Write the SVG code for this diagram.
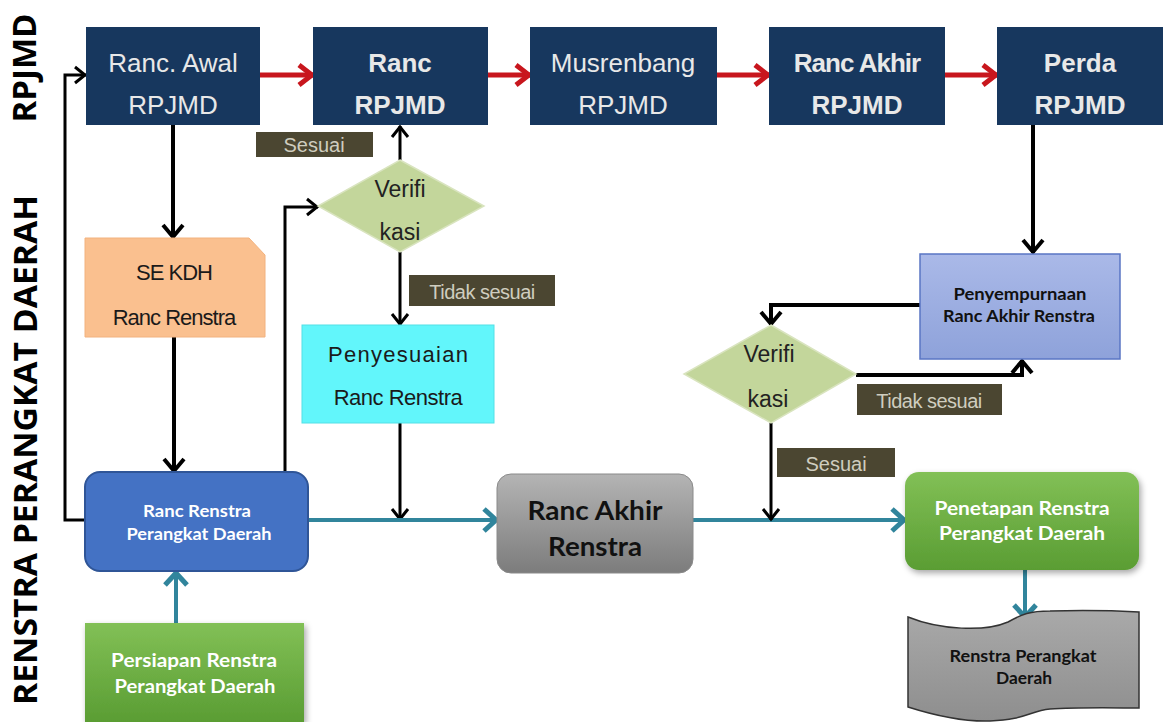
<svg xmlns="http://www.w3.org/2000/svg" width="1172" height="722" viewBox="0 0 1172 722">
<defs>
<style>
.navy{fill:#17375e;}
.tw{font-family:"Liberation Sans",Arial,sans-serif;font-size:26px;fill:#e8e8e8;text-anchor:middle;}
.twb{font-family:"Liberation Sans",Arial,sans-serif;font-size:26px;font-weight:bold;fill:#e8e8e8;text-anchor:middle;}
.lbl{fill:#4b4631;}
.lt{font-family:"Liberation Sans",Arial,sans-serif;font-size:20px;fill:#cfcdbf;text-anchor:middle;}
.dia{fill:#c3d69b;stroke:#d9e4bf;stroke-width:1.5;}
.dt{font-family:"Liberation Sans",Arial,sans-serif;font-size:23px;fill:#222;text-anchor:middle;}
.at{font-family:"Liberation Sans",Arial,sans-serif;font-size:22px;fill:#1a1a1a;text-anchor:middle;}
.cb{font-family:Lato,"Open Sans",sans-serif;font-weight:bold;text-anchor:middle;}
.side{font-family:"Open Sans",sans-serif;font-weight:bold;font-size:33px;fill:#000;text-anchor:middle;}
.red{fill:none;stroke:#c8161d;stroke-width:5;}
.blk{fill:none;stroke:#000;stroke-width:3;}
.blk4{fill:none;stroke:#000;stroke-width:4;}
.teal{fill:none;stroke:#31859c;stroke-width:4;}
</style>
<marker id="mr" markerUnits="userSpaceOnUse" viewBox="0 0 20 24" markerWidth="20" markerHeight="24" refX="17" refY="12" orient="auto"><path d="M3,2 L16,12 L3,22" fill="none" stroke="#c8161d" stroke-width="5"/></marker>
<marker id="mb" markerUnits="userSpaceOnUse" viewBox="0 0 16 20" markerWidth="16" markerHeight="20" refX="13" refY="10" orient="auto"><path d="M2,2 L12,10 L2,18" fill="none" stroke="#000" stroke-width="3"/></marker>
<marker id="mb4" markerUnits="userSpaceOnUse" viewBox="0 0 18 24" markerWidth="18" markerHeight="24" refX="15" refY="12" orient="auto"><path d="M2,2 L14,12 L2,22" fill="none" stroke="#000" stroke-width="4"/></marker>
<marker id="mt" markerUnits="userSpaceOnUse" viewBox="0 0 20 26" markerWidth="20" markerHeight="26" refX="16" refY="13" orient="auto"><path d="M3,2 L15,13 L3,24" fill="none" stroke="#31859c" stroke-width="5"/></marker>
<linearGradient id="gGray" x1="0" y1="0" x2="0" y2="1"><stop offset="0" stop-color="#b4b4b4"/><stop offset="1" stop-color="#7c7c7c"/></linearGradient>
<linearGradient id="gGreen" x1="0" y1="0" x2="0" y2="1"><stop offset="0" stop-color="#82c056"/><stop offset="1" stop-color="#5a9d33"/></linearGradient>
<linearGradient id="gBlue" x1="0" y1="0" x2="0" y2="1"><stop offset="0" stop-color="#aab9e8"/><stop offset="1" stop-color="#8ea2da"/></linearGradient>
<linearGradient id="gDoc" x1="0" y1="0" x2="0" y2="1"><stop offset="0" stop-color="#a9a9a9"/><stop offset="1" stop-color="#8e8e8e"/></linearGradient>
<filter id="sh" x="-10%" y="-10%" width="125%" height="130%"><feDropShadow dx="2" dy="3" stdDeviation="3" flood-color="#000" flood-opacity="0.35"/></filter>
</defs>
<rect width="1172" height="722" fill="#fff"/>

<g id="side-labels">
<text class="side" transform="translate(36,68) rotate(-90)" textLength="109" lengthAdjust="spacingAndGlyphs">RPJMD</text>
<text class="side" transform="translate(37,450) rotate(-90)" textLength="510" lengthAdjust="spacingAndGlyphs">RENSTRA PERANGKAT DAERAH</text>
</g>

<g id="connectors">
<path class="red" d="M260,75 H313" marker-end="url(#mr)"/>
<path class="red" d="M488,75 H530" marker-end="url(#mr)"/>
<path class="red" d="M717,75 H769" marker-end="url(#mr)"/>
<path class="red" d="M945,75 H997" marker-end="url(#mr)"/>
<path class="blk4" d="M173,125 V238" marker-end="url(#mb4)"/>
<path class="blk4" d="M174,337 V472" marker-end="url(#mb4)"/>
<path class="blk" d="M285,472 V207 H318" marker-end="url(#mb)"/>
<path class="blk" d="M400,160 V126" marker-end="url(#mb)"/>
<path class="blk" d="M400,252 V325" marker-end="url(#mb)"/>
<path class="blk" d="M400,423 V520" marker-end="url(#mb)"/>
<path class="blk" d="M85,520 H65 V75 H86" marker-end="url(#mb)"/>
<path class="teal" d="M308,520 H497" marker-end="url(#mt)"/>
<path class="teal" d="M176,623 V572" marker-end="url(#mt)"/>
<path class="teal" d="M693,520 H905" marker-end="url(#mt)"/>
<path class="blk4" d="M1033,125 V253" marker-end="url(#mb4)"/>
<path class="blk4" d="M920,305 H771 V325" marker-end="url(#mb4)"/>
<path class="blk4" d="M856,375 H1022 V360" marker-end="url(#mb4)"/>
<path class="blk" d="M771,423 V520" marker-end="url(#mb)"/>
<path class="teal" d="M1025,570 V618" marker-end="url(#mt)"/>
</g>

<g id="ranc-awal-rpjmd">
<rect class="navy" x="86" y="27" width="174" height="98"/>
<text class="tw" x="173" y="72">Ranc. Awal</text>
<text class="tw" x="173" y="114">RPJMD</text>
</g>
<g id="ranc-rpjmd">
<rect class="navy" x="313" y="27" width="175" height="98"/>
<text class="twb" x="400" y="72">Ranc</text>
<text class="twb" x="400" y="114">RPJMD</text>
</g>
<g id="musrenbang-rpjmd">
<rect class="navy" x="530" y="27" width="187" height="98"/>
<text class="tw" x="623" y="72">Musrenbang</text>
<text class="tw" x="623" y="114">RPJMD</text>
</g>
<g id="ranc-akhir-rpjmd">
<rect class="navy" x="769" y="27" width="176" height="98"/>
<text class="twb" x="857" y="72" letter-spacing="-1">Ranc Akhir</text>
<text class="twb" x="857" y="114">RPJMD</text>
</g>
<g id="perda-rpjmd">
<rect class="navy" x="997" y="27" width="166" height="98"/>
<text class="twb" x="1080" y="72">Perda</text>
<text class="twb" x="1080" y="114">RPJMD</text>
</g>

<g id="label-sesuai-1">
<rect class="lbl" x="256" y="132" width="117" height="25"/>
<text class="lt" x="314" y="152">Sesuai</text>
</g>
<g id="verifikasi-1">
<polygon class="dia" points="400,160 484,206 400,252 318,206"/>
<text class="dt" x="400" y="197">Verifi</text>
<text class="dt" x="400" y="240">kasi</text>
</g>
<g id="label-tidak-sesuai-1">
<rect class="lbl" x="409" y="275" width="146" height="31"/>
<text class="lt" x="482" y="299" letter-spacing="-0.5">Tidak sesuai</text>
</g>
<g id="se-kdh">
<path d="M85,238 H249 L265,255 V337 H85 Z" fill="#fac08f" stroke="#f2b27e" stroke-width="1"/>
<text class="at" x="174" y="280" letter-spacing="-1">SE KDH</text>
<text class="at" x="174" y="325" letter-spacing="-1">Ranc Renstra</text>
</g>
<g id="penyesuaian">
<rect x="302" y="325" width="192" height="98" fill="#62f6fb" stroke="#52e0e6" stroke-width="1"/>
<text class="at" x="398" y="362" textLength="140" lengthAdjust="spacing">Penyesuaian</text>
<text class="at" x="398" y="405" letter-spacing="-0.5">Ranc Renstra</text>
</g>
<g id="ranc-renstra-pd">
<rect x="85" y="472" width="223" height="99" rx="15" fill="#4472c4" stroke="#2f5597" stroke-width="2"/>
<text class="cb" x="197" y="517" font-size="17" fill="#fff" textLength="108" lengthAdjust="spacingAndGlyphs">Ranc Renstra</text>
<text class="cb" x="199" y="540" font-size="17" fill="#fff" textLength="145" lengthAdjust="spacingAndGlyphs">Perangkat Daerah</text>
</g>
<g id="persiapan">
<rect x="85" y="623" width="219" height="99" fill="url(#gGreen)" filter="url(#sh)"/>
<text class="cb" x="194" y="667" font-size="19" fill="#fff" textLength="166" lengthAdjust="spacingAndGlyphs">Persiapan Renstra</text>
<text class="cb" x="195" y="693" font-size="19" fill="#fff" textLength="161" lengthAdjust="spacingAndGlyphs">Perangkat Daerah</text>
</g>
<g id="ranc-akhir-renstra">
<rect x="497" y="474" width="196" height="99" rx="14" fill="url(#gGray)" stroke="#8a8a8a" stroke-width="1"/>
<text class="cb" x="595" y="520" font-size="27" fill="#111" textLength="135" lengthAdjust="spacingAndGlyphs">Ranc Akhir</text>
<text class="cb" x="595" y="556" font-size="27" fill="#111" textLength="94" lengthAdjust="spacingAndGlyphs">Renstra</text>
</g>
<g id="penyempurnaan">
<rect x="920" y="254" width="200" height="105" fill="url(#gBlue)" stroke="#5a76c4" stroke-width="1.5"/>
<text class="cb" x="1020" y="300" font-size="17" fill="#111" textLength="133" lengthAdjust="spacingAndGlyphs">Penyempurnaan</text>
<text class="cb" x="1019" y="322" font-size="17" fill="#111" textLength="152" lengthAdjust="spacingAndGlyphs">Ranc Akhir Renstra</text>
</g>
<g id="verifikasi-2">
<polygon class="dia" points="771,325 856,374 771,423 684,374"/>
<text class="dt" x="769" y="362">Verifi</text>
<text class="dt" x="768" y="407">kasi</text>
</g>
<g id="label-tidak-sesuai-2">
<rect class="lbl" x="857" y="384" width="145" height="31"/>
<text class="lt" x="929" y="408" letter-spacing="-0.5">Tidak sesuai</text>
</g>
<g id="label-sesuai-2">
<rect class="lbl" x="777" y="448" width="118" height="29"/>
<text class="lt" x="836" y="471">Sesuai</text>
</g>
<g id="penetapan">
<rect x="905" y="472" width="234" height="98" rx="14" fill="url(#gGreen)" filter="url(#sh)"/>
<text class="cb" x="1022" y="515" font-size="19" fill="#fff" textLength="175" lengthAdjust="spacingAndGlyphs">Penetapan Renstra</text>
<text class="cb" x="1022" y="540" font-size="19" fill="#fff" textLength="166" lengthAdjust="spacingAndGlyphs">Perangkat Daerah</text>
</g>
<g id="renstra-pd-doc">
<path d="M908,617 C940,630 985,632 1008,622 C1022,614 1030,611 1050,611 C1090,610 1120,611 1139,612 V708 C1120,708 1080,707 1050,709 C1030,711 1025,720 990,721 C960,722 930,714 908,707 Z" fill="url(#gDoc)" stroke="#333" stroke-width="1.5"/>
<text class="cb" x="1023" y="662" font-size="17" fill="#111" textLength="147" lengthAdjust="spacingAndGlyphs">Renstra Perangkat</text>
<text class="cb" x="1024" y="684" font-size="17" fill="#111" textLength="56" lengthAdjust="spacingAndGlyphs">Daerah</text>
</g>
</svg>
